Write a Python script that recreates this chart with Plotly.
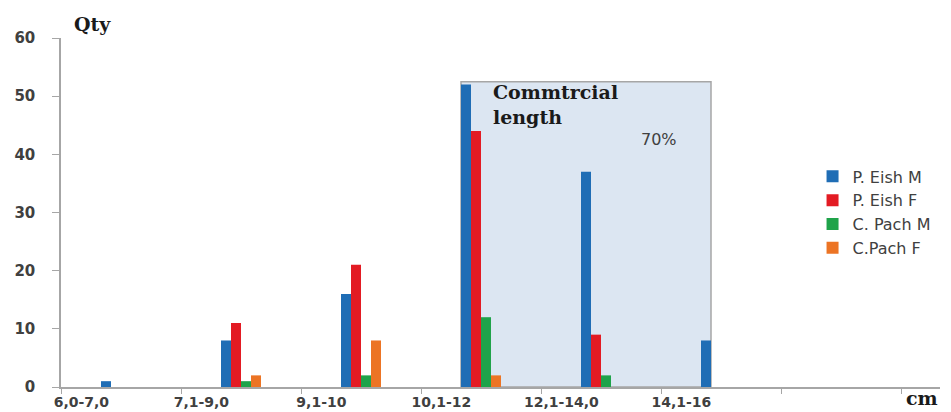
import plotly.graph_objects as go

# Length classes (cm) and fish counts per class
length_classes = ["6,0-7,0", "7,1-9,0", "9,1-10", "10,1-12", "12,1-14,0", "14,1-16"]
p_eish_m = [1, 8, 16, 52, 37, 8]
p_eish_f = [0, 11, 21, 44, 9, 0]
c_pach_m = [0, 1, 2, 12, 2, 0]
c_pach_f = [0, 2, 8, 2, 0, 0]

series_names = ["P. Eish M", "P. Eish F", "C. Pach M", "C.Pach F"]
series_values = [p_eish_m, p_eish_f, c_pach_m, c_pach_f]
series_colors = ["#1f6db5", "#e31b23", "#1fa34a", "#ec7424"]

y_ticks = [0, 10, 20, 30, 40, 50, 60]
commercial_share = "70%"

# Geometry of the grouped bars on a numeric axis (one unit per class)
BARGAP = 2 / 3
centers = [i + 0.5 for i in range(len(length_classes))]
group_w = 1 - BARGAP
bar_w = group_w / len(series_names)

fig = go.Figure()
for name, vals, col in zip(series_names, series_values, series_colors):
    fig.add_trace(go.Bar(
        x=centers, y=vals, name=name,
        marker=dict(color=col, line=dict(width=0)),
    ))

# Shaded box over the commercial length classes
first_c, last_c = 3, 5
box_x0 = centers[first_c] - group_w / 2
box_x1 = centers[last_c] - group_w / 2 + bar_w
box_top = 52.5
fig.add_shape(type="rect", xref="x", yref="y",
              x0=box_x0, x1=box_x1, y0=0, y1=box_top,
              fillcolor="#dce6f2", line=dict(color="#a6a6a6", width=1.5),
              layer="below")

fig.add_annotation(xref="x", yref="y", x=box_x0 + 0.25, y=box_top - 4.0,
                   text="<b>Commtrcial<br>length</b>", showarrow=False,
                   xanchor="left", yanchor="middle", align="left",
                   font=dict(family="DejaVu Serif", size=19, color="#1a1a1a"))
fig.add_annotation(xref="x", yref="y", x=box_x1 - 0.27, y=42.5,
                   text=commercial_share, showarrow=False,
                   xanchor="right", yanchor="middle",
                   font=dict(family="DejaVu Sans", size=16, color="#404040"))

# Axis titles
fig.add_annotation(xref="paper", yref="paper", x=0.013, y=1.04,
                   text="<b>Qty</b>", showarrow=False,
                   xanchor="left", yanchor="middle",
                   font=dict(family="DejaVu Serif", size=19, color="#1a1a1a"))
fig.add_annotation(xref="paper", yref="paper", x=1.0, y=-0.068,
                   text="<b>cm</b>", showarrow=False,
                   xanchor="right", yanchor="bottom",
                   font=dict(family="DejaVu Serif", size=19, color="#1a1a1a"))

y_tick_font = dict(family="DejaVu Sans", size=15, color="#404040", weight="bold")
x_tick_font = dict(family="DejaVu Sans", size=14, color="#404040", weight="bold")

fig.update_layout(
    width=951, height=412,
    margin=dict(l=61, r=11, t=38, b=25, autoexpand=False),
    paper_bgcolor="white", plot_bgcolor="white",
    barmode="group", bargap=BARGAP, bargroupgap=0,
    showlegend=True,
    legend=dict(x=0.855, y=0.652, xanchor="left", yanchor="top",
                bgcolor="rgba(0,0,0,0)",
                font=dict(family="DejaVu Sans", size=16, color="#404040")),
    xaxis=dict(
        range=[0, 7.325],
        tickmode="array",
        tickvals=[c - 0.33 for c in centers],
        ticktext=length_classes,
        ticks="", ticklen=0,
        tickfont=x_tick_font,
        ticklabelstandoff=1,
        showline=True, linecolor="#a6a6a6", linewidth=1.5,
        showgrid=False, zeroline=False,
        minor=dict(tickmode="array", tickvals=list(range(0, 8)),
                   ticks="outside", ticklen=5, tickcolor="#a6a6a6",
                   tickwidth=1, showgrid=False),
    ),
    yaxis=dict(
        range=[0, 60],
        tickmode="array", tickvals=y_ticks,
        ticks="outside", ticklen=7, tickcolor="#a6a6a6",
        tickfont=y_tick_font,
        ticklabelstandoff=14,
        showline=True, linecolor="#a6a6a6", linewidth=1.5,
        showgrid=False, zeroline=False,
    ),
)

fig.write_html("out.html")
